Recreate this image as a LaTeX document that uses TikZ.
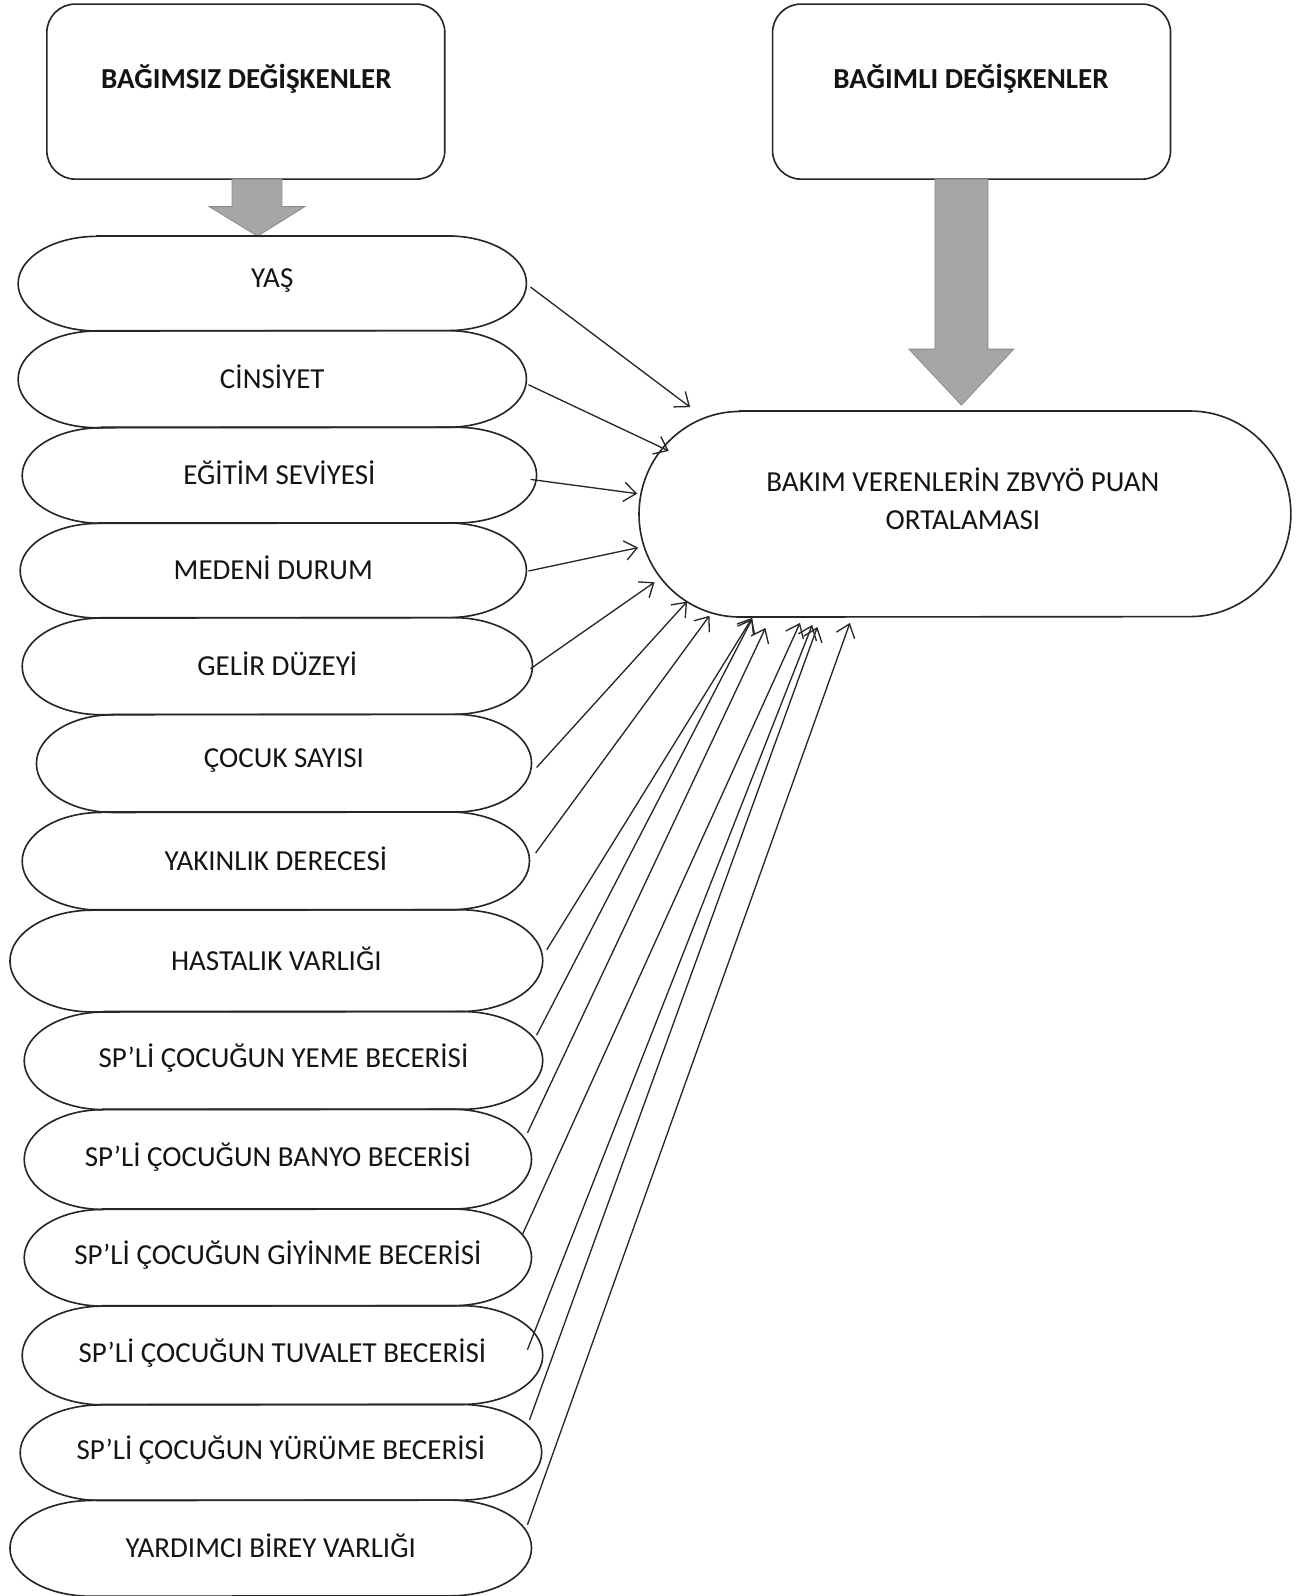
\documentclass[tikz,border=0pt]{standalone}
\usepackage{fontspec}
\setmainfont{Carlito}
\usetikzlibrary{calc,arrows.meta}
\definecolor{garrowfill}{RGB}{166,166,166}
\definecolor{garrowline}{RGB}{140,140,140}
\definecolor{txt}{RGB}{20,20,20}
% #1 name, #2 x1, #3 y1, #4 x2, #5 y2, #6 text
\newcommand\stadium[6]{%
  \node[stadtext, minimum width={(#4-#2)*1pt}, minimum height={(#5-#3)*1pt}] (#1) at ({(#2+#4)/2},{(#3+#5)/2}) {};
  \node[stadtext] (#1t) at ($(#1.center)+(0,-2.5)$) {#6};
  \pgfmathsetmacro\strx{0.155*(#4-#2)}%
  \pgfmathsetmacro\stry{(#5-#3)/2}%
  \draw[outl] ($(#1.north west)+(\strx pt,0)$) -- ($(#1.north east)+(-\strx pt,0)$)
    arc[start angle=90,end angle=-90,x radius=\strx pt,y radius=\stry pt]
    -- ($(#1.south west)+(\strx pt,0)$)
    arc[start angle=270,end angle=90,x radius=\strx pt,y radius=\stry pt] -- cycle;
}
\begin{document}
\begin{tikzpicture}[x=1pt,y=-1pt,
  font=\fontsize{28.5}{37.5}\selectfont,
  outl/.style={line width=1.6pt, draw=black!85},
  stadtext/.style={inner sep=0pt, text=txt},
  hbox/.style={draw=black!85, line width=1.6pt, rounded corners=28pt, inner sep=0pt},
  htext/.style={inner sep=0pt, text=txt, font=\fontsize{28.5}{37.5}\selectfont\bfseries},
  garrow/.style={fill=garrowfill, draw=garrowline, line width=0.8pt},
  arr/.style={line width=1.3pt, draw=black!85, -{Straight Barb[length=12pt,width=19pt,line width=1.3pt]}}]
\useasboundingbox (0,0) rectangle (1280,1568);

% header boxes
\node[hbox, minimum width=391pt, minimum height=172pt] (b1) at (241.5,90) {};
\node[htext] (b1t) at (242,77) {BAĞIMSIZ DEĞİŞKENLER};
\node[hbox, minimum width=391pt, minimum height=172pt] (b2) at (954.5,90) {};
\node[htext] (b2t) at (954,77) {BAĞIMLI DEĞİŞKENLER};

% gray block arrows
\coordinate (g1top) at (252.5,176);
\coordinate (g1tip) at (253,232);
\filldraw[garrow] ($(g1top)+(-24.5,0)$) -- ($(g1top)+(24.5,0)$) -- ($(g1top)+(24.5,27)$)
  -- ($(g1top)+(47,27)$) -- (g1tip) -- ($(g1top)+(-47,27)$) -- ($(g1top)+(-24.5,27)$) -- cycle;
\coordinate (g2top) at (944.5,176);
\coordinate (g2tip) at (944.5,398);
\filldraw[garrow] ($(g2top)+(-26,0)$) -- ($(g2top)+(26,0)$) -- ($(g2top)+(26,167)$)
  -- ($(g2top)+(51.5,167)$) -- (g2tip) -- ($(g2top)+(-51.5,167)$) -- ($(g2top)+(-26,167)$) -- cycle;

% dependent variable
\stadium{dep}{628}{404}{1268}{606}{}
\node[stadtext, align=center] (dept) at (946,490) {BAKIM VERENLERİN ZBVYÖ PUAN\\ORTALAMASI};

% independent variables
\stadium{v1}{18}{232}{517}{325}{YAŞ}
\stadium{v2}{18}{325}{517}{420}{CİNSİYET}
\stadium{v3}{22}{420}{527}{514}{EĞİTİM SEVİYESİ}
\stadium{v4}{20}{514}{517}{607}{MEDENİ DURUM}
\stadium{v5}{22}{607}{523}{702}{GELİR DÜZEYİ}
\stadium{v6}{36}{702}{522}{798}{ÇOCUK SAYISI}
\stadium{v7}{22}{798}{520}{894}{YAKINLIK DERECESİ}
\stadium{v8}{10}{894}{533}{994}{HASTALIK VARLIĞI}
\stadium{v9}{24}{994}{533}{1090}{SP’Lİ ÇOCUĞUN YEME BECERİSİ}
\stadium{v10}{24}{1090}{522}{1188}{SP’Lİ ÇOCUĞUN BANYO BECERİSİ}
\stadium{v11}{24}{1188}{522}{1283}{SP’Lİ ÇOCUĞUN GİYİNME BECERİSİ}
\stadium{v12}{22}{1283}{533}{1380}{SP’Lİ ÇOCUĞUN TUVALET BECERİSİ}
\stadium{v13}{20}{1380}{532}{1474}{SP’Lİ ÇOCUĞUN YÜRÜME BECERİSİ}
\stadium{v14}{10}{1474}{522}{1568}{YARDIMCI BİREY VARLIĞI}

% arrow tips near the dependent variable
\coordinate (t1) at (678,400);
\coordinate (t2) at (657,443);
\coordinate (t3) at (626,485);
\coordinate (t4) at (627,538);
\coordinate (t5) at (643,572);
\coordinate (t6) at (675,591);
\coordinate (t7) at (697,605);
\coordinate (t8) at (739,607);
\coordinate (t9) at (739,608);
\coordinate (t10) at (752,617);
\coordinate (t11) at (786,612);
\coordinate (t12) at (798,614);
\coordinate (t13) at (803,616);
\coordinate (t14) at (835,612);

\draw[arr] ($(v1.east)+(4,3.5)$) -- (t1);
\draw[arr] ($(v2.east)+(2,5.5)$) -- (t2);
\draw[arr] ($(v3.east)+(-6,4)$) -- (t3);
\draw[arr] ($(v4.east)+(2,0.5)$) -- (t4);
\draw[arr] ($(v5.east)+(-2,2.5)$) -- (t5);
\draw[arr] ($(v6.east)+(5,4)$) -- (t6);
\draw[arr] ($(v7.east)+(6,-8)$) -- (t7);
\draw[arr] ($(v8.east)+(4,-11)$) -- (t8);
\draw[arr] ($(v9.east)+(-6,-25)$) -- (t9);
\draw[arr] ($(v10.east)+(-4,-26)$) -- (t10);
\draw[arr] ($(v11.east)+(-9,-22.5)$) -- (t11);
\draw[arr] ($(v12.east)+(-15,-5.5)$) -- (t12);
\draw[arr] ($(v13.east)+(-12,-32)$) -- (t13);
\draw[arr] ($(v14.east)+(-4,-23)$) -- (t14);
\end{tikzpicture}
\end{document}
